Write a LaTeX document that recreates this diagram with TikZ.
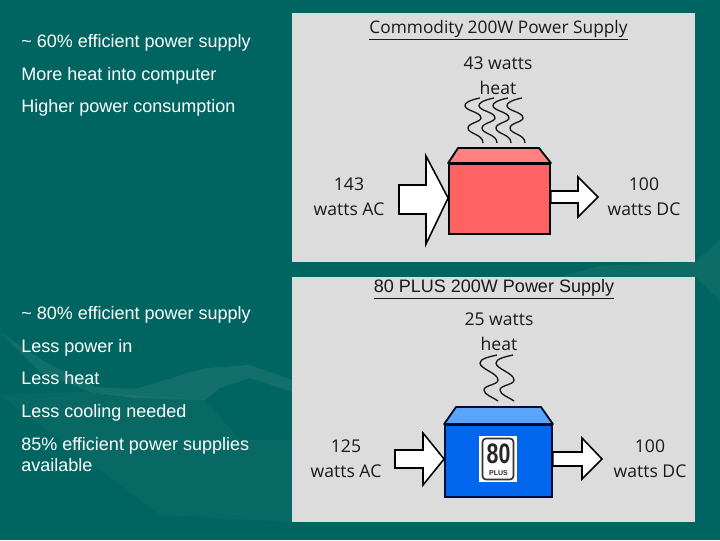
\documentclass[tikz,border=0pt]{standalone}
\usepackage{fontspec}
\setmainfont{Liberation Sans}
\newfontfamily\panelfont{Open Sans}
\usetikzlibrary{positioning, calc}
\definecolor{cSlide}{RGB}{0,101,96}
\definecolor{cPanel}{RGB}{220,220,220}
\definecolor{cRed}{RGB}{255,98,98}
\definecolor{cRedLid}{RGB}{255,128,128}
\definecolor{cBlue}{RGB}{0,102,238}
\definecolor{cBlueLid}{RGB}{90,165,250}
\definecolor{cNavy}{RGB}{0,10,50}
\tikzset{
	bullet/.style  ={anchor=west, inner sep=0pt, text=white, align=left, font=\fontsize{12.8}{15.4}\selectfont},
	panel/.style   ={fill=cPanel, draw=none, minimum width=403*0.025cm, inner sep=0pt},
	caption/.style ={inner sep=0pt, align=center, text=black!90, font=\panelfont\fontsize{12.5}{17.5}\selectfont},
	heading/.style ={inner sep=0pt, text=black!90},
	casebox/.style ={rectangle, draw=black, line width=1.3pt, inner sep=0pt},
	lidface/.style ={draw=black, line width=1.3pt, line join=round},
	flowblock/.style={draw=black, fill=white, line width=1.1pt, line join=miter},
	wisp/.style    ={black!90, line width=0.95pt},
}
\begin{document}
\begin{tikzpicture}[x=0.025cm, y=-0.025cm]
	\useasboundingbox (0,0) rectangle (720,540);
	\fill[cSlide] (0,0) rectangle (720,540);
	% faint mountains behind the slide
	\fill[white, opacity=0.07] (0,332) -- (45,362) -- (95,387) -- (135,389) -- (205,368) -- (250,365) -- (292,380) -- (292,392) -- (250,378) -- (220,388) -- (205,400) -- (135,398) -- (90,392) -- (40,372) -- cycle;
	\fill[white, opacity=0.03] (0,395) -- (90,392) -- (205,400) -- (240,440) -- (292,440) -- (292,522) -- (160,515) -- (60,440) -- cycle;
	\fill[white, opacity=0.05] (560,277) -- (600,266) -- (695,262) -- (720,240) -- (720,300) -- (695,277) -- cycle;
	% left column
	\node[bullet] (b1) at (21,43) {\textasciitilde{} 60\% efficient power supply};
	\node[bullet] (b2) at (21,75.5) {More heat into computer};
	\node[bullet] (b3) at (21,108) {Higher power consumption};
	\node[bullet] (b4) at (21,315) {\textasciitilde{} 80\% efficient power supply};
	\node[bullet] (b5) at (21,347.5) {Less power in};
	\node[bullet] (b6) at (21,378.5) {Less heat};
	\node[bullet] (b7) at (21,412.5) {Less cooling needed};
	\node[bullet] (b8) at (21,454.5) {85\% efficient power supplies\\available};
	% commodity supply
	\node[panel, minimum height=249*0.025cm] (top) at (493.5,137.5) {};
	\node[heading, font=\panelfont\fontsize{12.3}{14}\selectfont] (topT) at (498.5,30) {\underline{Commodity 200W Power Supply}};
	\node[caption] (topH) at (498,75.5) {43 watts\\heat};
	\node[caption] (topL) at (349,197) {143\\watts AC};
	\node[caption] (topR) at (644,197) {100\\watts DC};
	\node[casebox, fill=cRed, minimum width=101*0.025cm, minimum height=70*0.025cm] (topBox) at (499.5,199) {};
	\draw[lidface, fill=cRedLid] (topBox.north west) -- (458,148) -- (539,148) -- (topBox.north east) -- cycle;
	\draw[flowblock] (topBox.west |- 0,198) -- (426,156) -- (426,185) -- (399,185) -- (399,214) -- (426,214) -- (426,244) -- cycle;
	\draw[flowblock] (598,197) -- (578,177) -- (578,191) -- (topBox.east |- 0,191) -- (topBox.east |- 0,203) -- (578,203) -- (578,217) -- cycle;
	\foreach \dx in {0,14,28,42}
		\draw[wisp, xshift=\dx*0.025cm] (480,98) .. controls (470,100) and (464,103) .. (465,106) .. controls (466,111) and (481,112) .. (481,118) .. controls (481,122) and (468,123) .. (468,128) .. controls (468,134) and (483,134) .. (483,143);
	% 80 PLUS supply
	\node[panel, minimum height=245*0.025cm] (bot) at (493.5,399.5) {};
	\node[heading, font=\fontsize{12.8}{14}\selectfont] (botT) at (494,289.5) {\underline{80 PLUS 200W Power Supply}};
	\node[caption] (botH) at (499,332) {25 watts\\heat};
	\node[caption] (botL) at (346,458.5) {125\\watts AC};
	\node[caption] (botR) at (650,458.5) {100\\watts DC};
	\node[casebox, draw=cNavy, fill=cBlue, minimum width=107*0.025cm, minimum height=72*0.025cm] (botBox) at (498.5,461) {};
	\draw[lidface, draw=cNavy, fill=cBlueLid] (botBox.north west) -- (456,407) -- (541,407) -- (botBox.north east) -- cycle;
	\draw[flowblock] (botBox.west |- 0,459) -- (423,433) -- (423,450) -- (395,450) -- (395,468) -- (423,468) -- (423,485) -- cycle;
	\draw[flowblock] (602,459) -- (582,438) -- (582,452) -- (botBox.east |- 0,452) -- (botBox.east |- 0,466) -- (582,466) -- (582,479) -- cycle;
	\foreach \dx in {0,16}
		\draw[wisp, xshift=\dx*0.025cm] (497,355) .. controls (488,357) and (480,359) .. (480,363) .. controls (480,369) and (498,373) .. (498,380) .. controls (498,385) and (484,385) .. (484,390) .. controls (484,395) and (493,397) .. (498,401);
	% logo
	\node[fill=white, inner sep=0pt, minimum width=38*0.025cm, minimum height=46*0.025cm] (logo) at (498,459) {};
	\node[draw=black!80, fill=white, line width=1.2pt, rounded corners=2.5pt, inner sep=0pt, minimum width=31*0.025cm, minimum height=41*0.025cm] (badge) at (logo.center) {};
	\node[inner sep=0pt, text=black!85, font=\fontsize{20}{20}\selectfont\bfseries, xscale=0.76] (logo80) at (498.5,454) {80};
	\node[inner sep=0pt, text=black!85, font=\fontsize{5}{6}\selectfont\bfseries] (logoPlus) at (498.5,473) {PLUS};
\end{tikzpicture}
\end{document}
